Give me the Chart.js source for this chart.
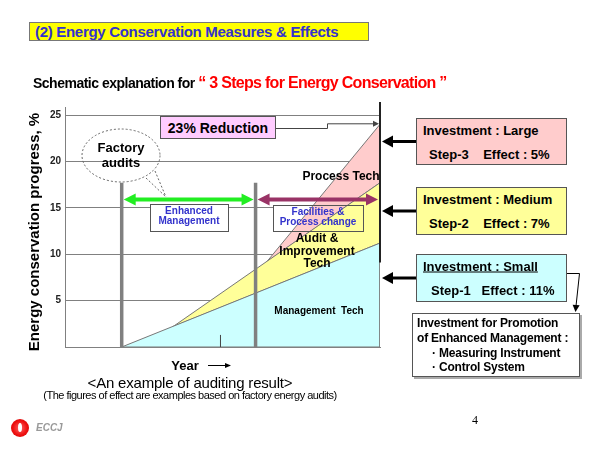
<!DOCTYPE html>
<html><head><meta charset="utf-8">
<script src="https://cdn.jsdelivr.net/npm/chart.js@4"></script>
<style>
html,body{margin:0;padding:0;background:#fff;}
#wrap{position:relative;width:600px;height:450px;overflow:hidden;font-family:"Liberation Sans",Arial,sans-serif;color:#000;}
canvas{position:absolute;left:0;top:0;}
.t{position:absolute;white-space:pre;transform:translate(-50%,-50%);line-height:1;}
.l{position:absolute;white-space:pre;transform:translate(0,-50%);line-height:1;}
.b{font-weight:bold;}
.box{position:absolute;box-sizing:border-box;border:1px solid #555;}
</style></head><body>
<div id="wrap">
<canvas id="c" width="600" height="450"></canvas>

<div class="box" style="left:29px;top:22px;width:340px;height:19px;background:#ffff00;border-color:#777;"></div>
<div class="l b" style="left:35px;top:31px;font-size:15px;letter-spacing:-0.3px;color:#3333cc;">(2) Energy Conservation Measures &amp; Effects</div>

<div class="l b" style="left:33px;top:83px;"><span style="font-size:14px;letter-spacing:-0.5px;">Schematic explanation for </span><span style="font-size:16px;letter-spacing:-0.7px;color:#ff0000;">“ 3 Steps for Energy Conservation ”</span></div>

<div class="t b" style="left:33px;top:232px;font-size:15px;transform:translate(-50%,-50%) rotate(-90deg);">Energy conservation progress, %</div>

<div class="box" style="left:160px;top:116px;width:116px;height:23px;background:#ffccff;"></div>
<div class="t b" style="left:218px;top:128px;font-size:14px;">23% Reduction</div>

<div class="t b" style="left:121px;top:147px;font-size:13px;">Factory</div>
<div class="t b" style="left:121px;top:162px;font-size:13px;">audits</div>

<div class="t b" style="left:189px;top:211px;font-size:10px;color:#3333cc;">Enhanced</div>
<div class="t b" style="left:189px;top:221px;font-size:10px;color:#3333cc;">Management</div>
<div class="t b" style="left:318px;top:212px;font-size:10px;color:#3333cc;">Facilities &amp;</div>
<div class="t b" style="left:318px;top:222px;font-size:10px;color:#3333cc;">Process change</div>

<div class="t b" style="left:341px;top:176px;font-size:12px;">Process Tech</div>
<div class="t b" style="left:317px;top:238px;font-size:12px;">Audit &amp;</div>
<div class="t b" style="left:317px;top:251px;font-size:12px;">Improvement</div>
<div class="t b" style="left:317px;top:263px;font-size:12px;">Tech</div>
<div class="t b" style="left:319px;top:311px;font-size:10px;">Management  Tech</div>

<div class="box" style="left:416px;top:118px;width:151px;height:47px;background:#ffcccc;"></div>
<div class="l b" style="left:423px;top:130px;font-size:13px;">Investment : Large</div>
<div class="l b" style="left:429px;top:154px;font-size:13px;">Step-3    Effect : 5%</div>

<div class="box" style="left:416px;top:187px;width:151px;height:48px;background:#ffff99;"></div>
<div class="l b" style="left:423px;top:199px;font-size:13px;">Investment : Medium</div>
<div class="l b" style="left:429px;top:223px;font-size:13px;">Step-2    Effect : 7%</div>

<div class="box" style="left:416px;top:254px;width:151px;height:48px;background:#ccffff;"></div>
<div class="l b" style="left:423px;top:266px;font-size:13px;text-decoration:underline;">Investment : Small</div>
<div class="l b" style="left:431px;top:290px;font-size:13px;">Step-1   Effect : 11%</div>

<div class="box" style="left:412px;top:313px;width:168px;height:64px;background:#fff;box-shadow:2px 2px 0 #aaa;"></div>
<div class="l b" style="left:417px;top:323px;font-size:12px;letter-spacing:-0.2px;">Investment for Promotion</div>
<div class="l b" style="left:417px;top:338px;font-size:12px;letter-spacing:-0.2px;">of Enhanced Management :</div>
<div class="l b" style="left:432px;top:353px;font-size:12px;letter-spacing:-0.2px;">· Measuring Instrument</div>
<div class="l b" style="left:432px;top:367px;font-size:12px;letter-spacing:-0.2px;">· Control System</div>

<div class="t b" style="left:185px;top:365px;font-size:13px;">Year</div>
<div class="t" style="left:190px;top:382px;font-size:15px;letter-spacing:-0.2px;">&lt;An example of auditing result&gt;</div>
<div class="t" style="left:190px;top:395px;font-size:11px;letter-spacing:-0.5px;">(The figures of effect are examples based on factory energy audits)</div>

<div style="position:absolute;left:11px;top:419px;width:18px;height:18px;border-radius:50%;background:radial-gradient(circle at 50% 50%,#ff6666 0%,#ee1111 55%,#cc0000 100%);"></div>
<div style="position:absolute;left:18px;top:423px;width:4px;height:9px;border-radius:50%;background:#fff;"></div>
<div class="l b" style="left:36px;top:428px;font-size:10px;font-style:italic;color:#999;">ECCJ</div>
<div class="t" style="left:475px;top:420px;font-size:12px;font-family:'Liberation Serif',serif;">4</div>
</div>

<script>
// ---- data ----
const xRange = [0, 100];                 // time axis (no labels)
const yTicks = [5, 10, 15, 20, 25];      // % tick labels
const yMax = 25.8;
const auditX = [18, 60.5];               // factory audit markers (x)
const auditTop = 17.7;                   // height of audit markers
const mgmtLine = [{x: 18, y: 0}, {x: 100, y: 11.2}];      // Management Tech (Step-1)
const auditLine = [{x: 34.3, y: 2.2}, {x: 100, y: 17.7}]; // Audit & Improvement Tech (Step-2)
const processLine = [{x: 64.1, y: 9.2}, {x: 100, y: 24}]; // Process Tech (Step-3)
const reductionPeak = 24;

// polygons built from the lines
const mgmtPoly = [mgmtLine[0], mgmtLine[1], {x: mgmtLine[1].x, y: 0}, mgmtLine[0]];
const auditPoly = [auditLine[0], auditLine[1], mgmtLine[1], auditLine[0]];
const processPoly = [processLine[0], processLine[1], auditLine[1], processLine[0]];

function head(ctx, x, y, dx, dy, len, half) {
  // arrow head with tip at (x,y) pointing in direction (dx,dy)
  const px = -dy, py = dx;
  ctx.beginPath();
  ctx.moveTo(x, y);
  ctx.lineTo(x - dx * len + px * half, y - dy * len + py * half);
  ctx.lineTo(x - dx * len - px * half, y - dy * len - py * half);
  ctx.closePath();
  ctx.fill();
}

const annot = {
  id: 'annot',
  beforeDatasetsDraw(chart) {
    const ctx = chart.ctx;
    ctx.save();
    ctx.fillStyle = '#fff';
    [[150, 204, 78, 27], [273, 205, 90, 26]].forEach(r => ctx.fillRect(r[0], r[1], r[2], r[3]));
    ctx.restore();
  },
  afterDatasetsDraw(chart) {
    const ctx = chart.ctx;
    const xs = chart.scales.x, ys = chart.scales.y;
    const xR = xs.getPixelForValue(xRange[1]);
    ctx.save();
    // box outlines
    ctx.strokeStyle = '#555'; ctx.lineWidth = 1;
    [[150, 204, 78, 27], [273, 205, 90, 26]].forEach(r => ctx.strokeRect(r[0] + 0.5, r[1] + 0.5, r[2], r[3]));
    // small tick on the baseline
    const tx = xs.getPixelForValue(49.2);
    ctx.strokeStyle = '#444';
    ctx.beginPath(); ctx.moveTo(tx + 0.5, ys.getPixelForValue(0)); ctx.lineTo(tx + 0.5, ys.getPixelForValue(1.3)); ctx.stroke();
    // right dark line
    ctx.strokeStyle = '#222'; ctx.lineWidth = 2;
    ctx.beginPath(); ctx.moveTo(xR, 102); ctx.lineTo(xR, ys.getPixelForValue(9.1)); ctx.stroke();
    // double arrows
    const ay = Math.round(ys.getPixelForValue(16)) + 0.5;
    const a1 = xs.getPixelForValue(auditX[0]) + 2, a2 = xs.getPixelForValue(auditX[1]) - 2;
    const a3 = xs.getPixelForValue(auditX[1]) + 2, a4 = xR - 2;
    ctx.lineWidth = 4;
    ctx.strokeStyle = '#22ee22'; ctx.fillStyle = '#22ee22';
    ctx.beginPath(); ctx.moveTo(a1 + 8, ay); ctx.lineTo(a2 - 8, ay); ctx.stroke();
    head(ctx, a1, ay, -1, 0, 12, 6); head(ctx, a2, ay, 1, 0, 12, 6);
    ctx.strokeStyle = '#993366'; ctx.fillStyle = '#993366';
    ctx.beginPath(); ctx.moveTo(a3 + 8, ay); ctx.lineTo(a4 - 8, ay); ctx.stroke();
    head(ctx, a3, ay, -1, 0, 12, 6); head(ctx, a4, ay, 1, 0, 12, 6);
    // factory audits callout
    ctx.lineWidth = 1; ctx.strokeStyle = '#666'; ctx.setLineDash([2, 2]);
    ctx.beginPath(); ctx.ellipse(121, 155.5, 39, 26.5, 0, 0, Math.PI * 2); ctx.stroke();
    ctx.beginPath(); ctx.moveTo(146, 178); ctx.lineTo(166, 197); ctx.moveTo(155, 171); ctx.lineTo(166, 197); ctx.stroke();
    ctx.setLineDash([]);
    // 23% reduction pointer
    const py = ys.getPixelForValue(reductionPeak);
    ctx.strokeStyle = '#444'; ctx.fillStyle = '#444';
    ctx.beginPath(); ctx.moveTo(276, 128.5); ctx.lineTo(327.5, 128.5); ctx.lineTo(327.5, py - 0.5); ctx.lineTo(xR - 5, py - 0.5); ctx.stroke();
    head(ctx, xR - 1, py - 0.5, 1, 0, 6, 3);
    // arrows from the step boxes
    ctx.strokeStyle = '#000'; ctx.fillStyle = '#000'; ctx.lineWidth = 3;
    [141.5, 211, 278].forEach(y => {
      ctx.beginPath(); ctx.moveTo(416, y); ctx.lineTo(xR + 10, y); ctx.stroke();
      head(ctx, xR + 2, y, -1, 0, 11, 6);
    });
    // connector to investment box
    ctx.lineWidth = 1;
    ctx.beginPath(); ctx.moveTo(567, 273.5); ctx.lineTo(579.5, 273.5); ctx.lineTo(576, 306); ctx.stroke();
    head(ctx, 575.5, 312, -0.09, 1, 7, 3.5);
    // year arrow
    ctx.beginPath(); ctx.moveTo(208, 365.5); ctx.lineTo(226, 365.5); ctx.stroke();
    head(ctx, 231, 365.5, 1, 0, 6, 2.5);
    ctx.restore();
  }
};

const poly = (data, bg) => ({
  type: 'scatter', showLine: true, data, fill: 'shape',
  backgroundColor: bg, borderColor: '#777', borderWidth: 1,
  pointRadius: 0, tension: 0
});
const marker = (x) => ({
  type: 'scatter', showLine: true,
  data: [{x, y: 0}, {x, y: auditTop}],
  borderColor: '#808080', borderWidth: 3.5, pointRadius: 0, fill: false, borderCapStyle: 'butt'
});

new Chart(document.getElementById('c'), {
  type: 'scatter',
  data: {
    datasets: [
      marker(auditX[0]), marker(auditX[1]),
      poly(mgmtPoly, '#ccffff'),
      poly(auditPoly, '#ffff99'),
      poly(processPoly, '#ffcccc')
    ]
  },
  options: {
    responsive: false,
    animation: false,
    events: [],
    layout: {padding: {left: 40, right: 220, top: 107.6, bottom: 103}},
    plugins: {legend: {display: false}, tooltip: {enabled: false}, title: {display: false}},
    scales: {
      x: {
        type: 'linear', min: xRange[0], max: xRange[1],
        ticks: {display: false},
        grid: {color: 'transparent', drawTicks: false},
        border: {display: true, color: '#808080', width: 1},
        afterFit: s => { s.height = 0; }
      },
      y: {
        type: 'linear', min: 0, max: yMax,
        afterBuildTicks: s => { s.ticks = yTicks.map(v => ({value: v})); },
        afterFit: s => { s.width = 25; },
        ticks: {padding: 4, color: '#222', font: {family: 'Liberation Sans', size: 10, weight: 'bold'}},
        grid: {color: '#808080', drawTicks: false},
        border: {display: true, color: '#808080', width: 1}
      }
    }
  },
  plugins: [annot]
});
</script>
</body></html>
